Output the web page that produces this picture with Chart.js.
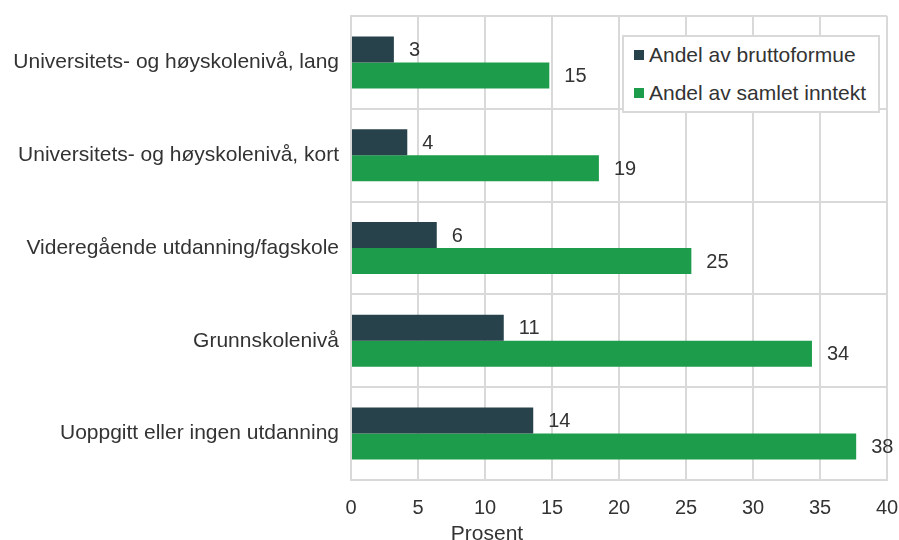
<!DOCTYPE html>
<html>
<head>
<meta charset="utf-8">
<script src="https://cdn.jsdelivr.net/npm/chart.js@4.4.1/dist/chart.umd.min.js"></script>
<style>
  html,body{margin:0;padding:0;background:#fff}
  #wrap{position:relative;width:899px;height:540px;overflow:hidden}
  #legend{position:absolute;left:622px;top:35px;width:254px;height:74px;border:2px solid #d9d9d9;background:#fff;
    font-family:"Liberation Sans",Arial,sans-serif;font-size:21px;color:#333}
  #legend .item{position:absolute;left:10px;display:flex;align-items:center;white-space:nowrap}
  #legend .sw{width:10px;height:10px;margin-right:5px}
</style>
</head>
<body>
<div id="wrap">
  <canvas id="chart" width="899" height="540"></canvas>
  <div id="legend"></div>
</div>
<script>
const categories = [
  "Universitets- og høyskolenivå, lang",
  "Universitets- og høyskolenivå, kort",
  "Videregående utdanning/fagskole",
  "Grunnskolenivå",
  "Uoppgitt eller ingen utdanning"
];
const bruttoformue = [3.2, 4.2, 6.4, 11.4, 13.6];
const samletInntekt = [14.8, 18.5, 25.4, 34.4, 37.7];
const seriesNames = ["Andel av bruttoformue", "Andel av samlet inntekt"];
const colors = ["#27424a", "#1d9d4b"];
const axisTitle = "Prosent";

const FONT = '"Liberation Sans", Arial, sans-serif';
const TEXT = "#333333";
const GRID = "#d9d9d9";

const valueLabels = {
  id: "valueLabels",
  afterDatasetsDraw(chart){
    const ctx = chart.ctx;
    ctx.save();
    ctx.font = "20px " + FONT;
    ctx.fillStyle = TEXT;
    ctx.textBaseline = "middle";
    ctx.textAlign = "left";
    chart.data.datasets.forEach((ds, i) => {
      chart.getDatasetMeta(i).data.forEach((bar, j) => {
        ctx.fillText(String(Math.round(ds.data[j])), bar.x + 15, bar.y + 1);
      });
    });
    ctx.restore();
  }
};

const xTitle = {
  id: "xTitle",
  afterDraw(chart){
    const ctx = chart.ctx;
    ctx.save();
    ctx.font = "21px " + FONT;
    ctx.fillStyle = TEXT;
    ctx.textAlign = "center";
    ctx.textBaseline = "top";
    ctx.fillText(axisTitle, 487, 524);
    ctx.restore();
  }
};

new Chart(document.getElementById("chart"), {
  type: "bar",
  data: {
    labels: categories,
    datasets: [
      {label: seriesNames[0], data: bruttoformue, backgroundColor: colors[0]},
      {label: seriesNames[1], data: samletInntekt, backgroundColor: colors[1]}
    ]
  },
  options: {
    indexAxis: "y",
    responsive: false,
    animation: false,
    datasets: {bar: {categoryPercentage: 0.56, barPercentage: 1}},
    layout: {padding: {top: 16, right: 12, bottom: 0, left: 0}},
    plugins: {legend: {display: false}, tooltip: {enabled: false}},
    scales: {
      x: {
        min: 0, max: 40,
        ticks: {stepSize: 5, padding: 16, color: TEXT, font: {family: FONT, size: 20}},
        grid: {color: GRID, lineWidth: 2, drawTicks: false},
        border: {color: GRID, width: 2},
        afterFit: s => { s.height = 60; s.paddingLeft = 0; s.paddingRight = 0; }
      },
      y: {
        ticks: {padding: 12, color: TEXT, font: {family: FONT, size: 21}},
        grid: {color: GRID, lineWidth: 2, drawTicks: false},
        border: {color: GRID, width: 2},
        afterFit: s => { s.width = 351; s.paddingTop = 0; s.paddingBottom = 0; }
      }
    }
  },
  plugins: [valueLabels, xTitle]
});

const legend = document.getElementById("legend");
legend.innerHTML = seriesNames.map((n, i) =>
  `<div class="item" style="top:${i === 0 ? 6 : 44}px"><span class="sw" style="background:${colors[i]}"></span>${n}</div>`
).join("");
</script>
</body>
</html>
